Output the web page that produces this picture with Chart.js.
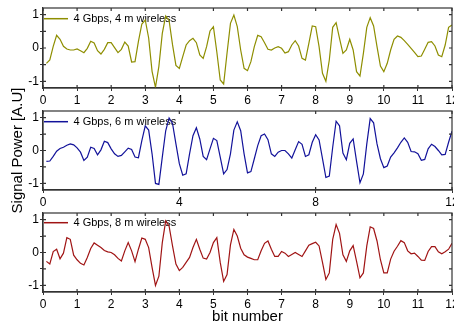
<!DOCTYPE html>
<html>
<head>
<meta charset="utf-8">
<script src="https://cdn.jsdelivr.net/npm/chart.js@4.4.0/dist/chart.umd.min.js"></script>
<style>
  html, body { margin: 0; padding: 0; background: #fff; }
  #wrap { position: relative; width: 454px; height: 327px; overflow: hidden; }
  canvas { position: absolute; left: 0; }
</style>
</head>
<body>
<div id="wrap">
  <canvas id="c1" width="454" height="104" style="top:0px"></canvas>
  <canvas id="c2" width="454" height="150" style="top:85px"></canvas>
  <canvas id="c3" width="454" height="122" style="top:205px"></canvas>
</div>
<script>
// samples every 0.1 bit, from bit 0.1 to 12
const firstBit = 0.1;
const bitStep = 0.1;

const sig4m = [
  -0.46, -0.36, 0.05, 0.38, 0.26, 0.05, -0.03, -0.06, -0.06, -0.03,
  -0.08, -0.14, -0.01, 0.2, 0.15, -0.08, -0.18, -0.04, 0.16, 0.16,
  0.01, -0.14, -0.04, 0.18, 0.06, -0.42, -0.41, 0.2, 0.72, 0.84,
  0.3, -0.7, -1.18, -0.55, 0.44, 0.96, 0.82, 0.1, -0.52, -0.61,
  -0.26, 0.09, 0.22, 0.29, 0.16, -0.21, -0.31, 0.04, 0.51, 0.64,
  -0.12, -0.96, -1.08, -0.15, 0.74, 0.99, 0.64, -0.06, -0.61, -0.68,
  -0.41, 0.04, 0.38, 0.34, 0.16, -0.04, -0.06, 0.0, 0.04, -0.01,
  -0.15, -0.11, 0.09, 0.22, 0.06, -0.31, -0.36, 0.14, 0.66, 0.64,
  0.04, -0.76, -1.0, -0.36, 0.62, 0.76, 0.29, -0.16, -0.06, 0.26,
  -0.06, -0.71, -0.84, -0.16, 0.62, 0.91, 0.66, 0.04, -0.54, -0.71,
  -0.46, -0.06, 0.26, 0.36, 0.32, 0.22, 0.11, -0.01, -0.13, -0.26,
  -0.24, -0.04, 0.17, 0.19, 0.06, -0.21, -0.26, 0.09, 0.62, 0.69
];

const sig6m = [
  -0.33, -0.32, -0.18, -0.02, 0.06, 0.1, 0.16, 0.2, 0.17, 0.08,
  -0.05, -0.3, -0.2, 0.1, 0.06, -0.13, 0.02, 0.28, 0.24, 0.05,
  -0.1, -0.18, -0.15, -0.04, 0.07, 0.03, -0.2, -0.22, 0.3, 0.75,
  0.62, -0.1, -1.0, -1.03, -0.2, 0.6, 0.99, 0.82, 0.2, -0.4,
  -0.75, -0.71, -0.1, 0.45, 0.69, 0.35, -0.18, -0.28, 0.05, 0.37,
  0.3, -0.2, -0.71, -0.58, -0.1, 0.62, 0.87, 0.6, -0.1, -0.68,
  -0.64, -0.25, 0.15, 0.45, 0.5, 0.33, -0.1, -0.18, -0.05, 0.0,
  0.0, -0.1, -0.23, 0.02, 0.27, 0.19, -0.18, -0.13, 0.25, 0.48,
  0.32, -0.25, -0.82, -0.78, 0.1, 0.89, 0.75, -0.08, -0.28, 0.22,
  0.35, -0.33, -0.98, -0.71, 0.2, 0.97, 0.84, 0.2, -0.25, -0.52,
  -0.47, -0.2, -0.07, 0.08, 0.25, 0.38, 0.25, -0.03, -0.04, -0.1,
  -0.3, -0.27, 0.05, 0.19, 0.12, 0.0, -0.13, -0.12, 0.25, 0.59
];

const sig8m = [
  -0.27, -0.35, 0.03, 0.1, -0.19, -0.02, 0.45, 0.4, -0.08, -0.22,
  -0.33, -0.38, -0.15, 0.12, 0.29, 0.22, 0.15, 0.06, 0.02, 0.0,
  -0.07, -0.18, -0.26, 0.05, 0.3, 0.05, -0.28, 0.1, 0.44, 0.4,
  0.15, -0.45, -1.0, -0.72, 0.3, 0.96, 0.8, 0.2, -0.35, -0.55,
  -0.45, -0.3, -0.15, 0.15, 0.4, 0.1, -0.17, -0.2, 0.0, 0.3,
  0.45, -0.3, -0.88, -0.67, 0.23, 0.7, 0.5, 0.13, -0.07, -0.14,
  -0.18, -0.22, -0.22, 0.05, 0.28, 0.35, 0.1, -0.12, -0.12, 0.03,
  -0.02, -0.12, -0.06, 0.0, -0.06, -0.12, 0.05, 0.22, 0.27, 0.31,
  0.2, -0.3, -0.82, -0.62, 0.4, 0.85, 0.58, -0.07, -0.27, 0.05,
  0.21, -0.27, -0.77, -0.62, 0.2, 0.78, 0.73, 0.35, -0.22, -0.62,
  -0.62, -0.2, 0.04, 0.19, 0.36, 0.3, 0.05, -0.04, -0.02, -0.12,
  -0.23, -0.24, 0.03, 0.18, 0.18, 0.02, -0.04, 0.02, 0.1, 0.28
];

const labels = ['4 Gbps, 4 m wireless', '4 Gbps, 6 m wireless', '4 Gbps, 8 m wireless'];
const colors = ['#8e8e00', '#12129a', '#a01414'];

const font = "'Liberation Sans', Arial, sans-serif";
const axisColor = '#333';

// box round the plot and inward ticks on every side
const frame = {
  id: 'frame',
  afterDraw(chart) {
    const { ctx, chartArea: a, scales: { x, y } } = chart;
    ctx.save();
    ctx.strokeStyle = axisColor;
    ctx.lineWidth = 1.2;
    ctx.strokeRect(a.left, a.top, a.right - a.left, a.bottom - a.top);
    ctx.beginPath();
    x.ticks.forEach(t => {
      const px = x.getPixelForValue(t.value);
      ctx.moveTo(px, a.top); ctx.lineTo(px, a.top + 3);
      ctx.moveTo(px, a.bottom); ctx.lineTo(px, a.bottom - 3);
    });
    y.ticks.forEach(t => {
      const py = y.getPixelForValue(t.value);
      ctx.moveTo(a.right, py); ctx.lineTo(a.right - 3, py);
      ctx.moveTo(a.left, py); ctx.lineTo(a.left + 3, py);
    });
    ctx.stroke();
    ctx.restore();
  }
};

function panel(id, values, idx, o) {
  const pts = values.map((v, i) => ({ x: firstBit + i * bitStep, y: v }));
  return new Chart(document.getElementById(id), {
    type: 'line',
    data: {
      datasets: [{
        label: labels[idx],
        data: pts,
        borderColor: colors[idx],
        backgroundColor: colors[idx],
        borderWidth: 1.2,
        pointRadius: 0,
        tension: 0
      }]
    },
    options: {
      responsive: false,
      animation: false,
      devicePixelRatio: 1,
      layout: { autoPadding: false, padding: { top: o.top, right: 2, left: 0, bottom: 0 } },
      plugins: {
        tooltip: { enabled: false },
        legend: {
          position: 'chartArea',
          align: 'start',
          // empty title only pushes the entry down into the plot
          title: { display: true, text: '', font: { size: 1 }, padding: { top: o.legendDrop, bottom: 0 } },
          labels: {
            usePointStyle: true,
            pointStyle: 'line',
            pointStyleWidth: 24,
            padding: 1,
            color: '#000',
            font: { family: font, size: 11 },
            generateLabels(chart) {
              const ds = chart.data.datasets[0];
              return [{ text: ds.label, strokeStyle: ds.borderColor, fillStyle: ds.borderColor,
                        lineWidth: 1.5, pointStyle: 'line', datasetIndex: 0, fontColor: '#000' }];
            }
          }
        }
      },
      scales: {
        x: {
          type: 'linear',
          min: 0, max: 12,
          afterFit(s) { s.height = o.xh; s.paddingLeft = 0; s.paddingRight = 0; },
          border: { display: true, color: axisColor, width: 1.2 },
          grid: { drawOnChartArea: false, drawTicks: true, tickLength: 3, color: axisColor },
          ticks: { stepSize: o.step, padding: 2, color: '#000', maxRotation: 0,
                   font: { family: font, size: 12 } },
          title: { display: !!o.xTitle, text: o.xTitle || '', color: '#000',
                   font: { family: font, size: 15 }, padding: { top: 0, bottom: 1 } }
        },
        y: {
          min: -1.2, max: 1.2,
          afterFit(s) { s.width = 43; s.paddingTop = 0; s.paddingBottom = 0; },
          border: { display: true, color: axisColor, width: 1.2 },
          grid: { drawOnChartArea: false, drawTicks: true, tickLength: 3, color: axisColor },
          ticks: {
            stepSize: 0.5, includeBounds: false, padding: 1, color: '#000',
            font: { family: font, size: 12 },
            callback: v => (Number.isInteger(v) ? String(v) : '')
          },
          title: { display: !!o.yTitle, text: o.yTitle || '', color: '#000',
                   font: { family: font, size: 15 }, padding: { top: 9, bottom: 0 } }
        }
      }
    },
    plugins: [frame]
  });
}

panel('c1', sig4m, 0, { top: 8, xh: 16, step: 1, legendDrop: 11 });
panel('c2', sig6m, 1, { top: 26, xh: 45, step: 4, legendDrop: 29, yTitle: 'Signal Power [A.U]' });
panel('c3', sig8m, 2, { top: 8, xh: 35, step: 1, legendDrop: 10, xTitle: 'bit number' });
</script>
</body>
</html>
